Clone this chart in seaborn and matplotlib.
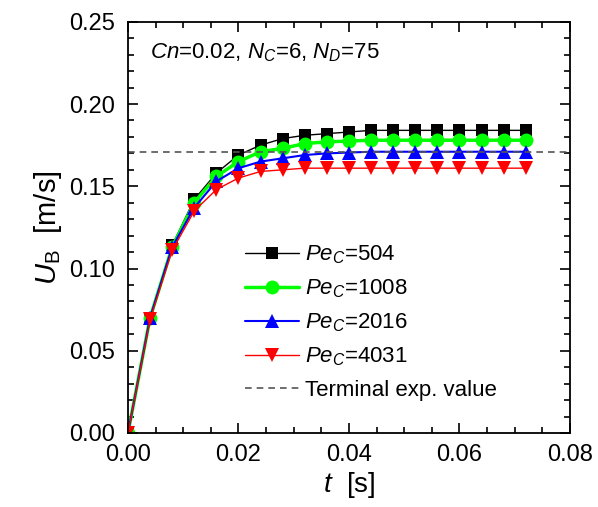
import matplotlib
matplotlib.use("Agg")
import matplotlib.pyplot as plt
from matplotlib.ticker import MultipleLocator
import pandas as pd
import seaborn as sns

# time [s]
T = [0.000, 0.004, 0.008, 0.012, 0.016, 0.020, 0.024, 0.028, 0.032, 0.036,
     0.040, 0.044, 0.048, 0.052, 0.056, 0.060, 0.064, 0.068, 0.072]

# bubble rise velocity [m/s] for each Peclet number
U_PE504 = [0.000, 0.070, 0.114, 0.142, 0.158, 0.169, 0.175, 0.179, 0.181, 0.182,
           0.183, 0.184, 0.184, 0.184, 0.184, 0.184, 0.184, 0.184, 0.184]
U_PE1008 = [0.000, 0.070, 0.113, 0.140, 0.156, 0.165, 0.171, 0.173, 0.176, 0.177,
            0.1775, 0.178, 0.178, 0.178, 0.178, 0.178, 0.178, 0.178, 0.178]
U_PE2016 = [0.000, 0.070, 0.113, 0.137, 0.153, 0.161, 0.165, 0.167, 0.169, 0.170,
            0.1705, 0.171, 0.171, 0.171, 0.171, 0.171, 0.171, 0.171, 0.171]
U_PE4031 = [0.000, 0.069, 0.111, 0.135, 0.148, 0.155, 0.159, 0.160, 0.161, 0.161,
            0.161, 0.161, 0.161, 0.161, 0.161, 0.161, 0.161, 0.161, 0.161]

TERMINAL_EXP = 0.171

sns.set_style("ticks")
plt.rcParams["font.family"] = ["Liberation Sans", "DejaVu Sans"]
plt.rcParams["mathtext.fontset"] = "custom"
plt.rcParams["mathtext.rm"] = "Liberation Sans"
plt.rcParams["mathtext.it"] = "Liberation Sans:italic"
plt.rcParams["mathtext.bf"] = "Liberation Sans:bold"
for key in ["text.color", "axes.labelcolor", "xtick.color", "ytick.color",
            "axes.edgecolor"]:
    plt.rcParams[key] = "black"

fig = plt.figure(figsize=(5.98, 5.07), dpi=100)
ax = fig.add_axes([0.214, 0.146, 0.739, 0.811])

series = [
    (U_PE504, "$Pe_C$=504", "black", "s", 1.0, 9.0),
    (U_PE1008, "$Pe_C$=1008", "#00ff00", "o", 2.5, 10.0),
    (U_PE2016, "$Pe_C$=2016", "blue", "^", 1.5, 10.0),
    (U_PE4031, "$Pe_C$=4031", "red", "v", 1.0, 10.0),
]
for vals, label, colour, marker, lw, ms in series:
    df = pd.DataFrame({"t": T, "u": vals})
    sns.lineplot(data=df, x="t", y="u", ax=ax, color=colour, marker=marker,
                 markersize=ms, markeredgewidth=0, linewidth=lw, label=label)

ax.axhline(TERMINAL_EXP, color="#555555", linestyle=(0, (4, 3)),
           linewidth=1.2, label="Terminal exp. value")

ax.set_xlim(0, 0.08)
ax.set_ylim(0, 0.25)
ax.xaxis.set_major_locator(MultipleLocator(0.02))
ax.xaxis.set_minor_locator(MultipleLocator(0.005))
ax.yaxis.set_major_locator(MultipleLocator(0.05))
ax.yaxis.set_minor_locator(MultipleLocator(0.01))
ax.xaxis.set_major_formatter(lambda v, p: f"{v:.2f}")
ax.yaxis.set_major_formatter(lambda v, p: f"{v:.2f}")
ax.tick_params(which="both", direction="in", top=True, right=True, width=1.2)
ax.tick_params(which="major", length=7, labelsize=17)
ax.tick_params(which="minor", length=4)
ax.tick_params(axis="x", which="major", pad=8)
ax.tick_params(axis="y", which="major", pad=9)
for sp in ax.spines.values():
    sp.set_linewidth(1.3)

ax.set_xlabel("$t$  [s]", fontsize=20, labelpad=3)
ax.set_ylabel(r"$U_\mathrm{B}$  [m/s]", fontsize=21, labelpad=4)

ax.text(0.05, 0.925, "$Cn$=0.02, $N_C$=6, $N_D$=75", transform=ax.transAxes,
        fontsize=16, va="center", ha="left")

ax.legend(loc="lower left", bbox_to_anchor=(0.23, 0.04), frameon=False,
          fontsize=16, handlelength=2.4, handletextpad=0.3, labelspacing=0.52,
          borderpad=0.2)

fig.savefig("out.png", dpi=100)
